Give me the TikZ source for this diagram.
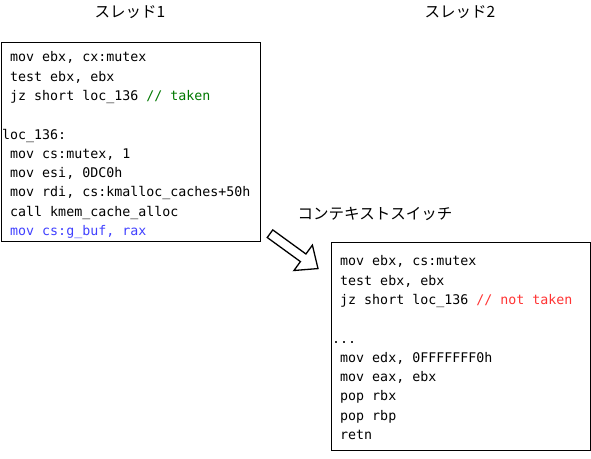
\documentclass[tikz,border=0pt]{standalone}
\usepackage{fontspec}
\setmonofont{DejaVu Sans Mono}
\newfontfamily\jpfont{Noto Sans CJK JP}
\usetikzlibrary{positioning}
\definecolor{takengreen}{RGB}{0,120,0}
\definecolor{storeblue}{RGB}{64,64,255}
\definecolor{nottakenred}{RGB}{255,51,51}
\tikzset{
  frame/.style={draw, line width=0.8pt, inner sep=0pt, anchor=north west},
  listing/.style={align=left, inner sep=0pt, font=\ttfamily\fontsize{13.3}{19.3}\selectfont},
  title/.style={font=\jpfont\fontsize{15.5}{18}\selectfont, inner sep=0pt},
}
\begin{document}
\begin{tikzpicture}[x=1pt,y=-1pt]
  \useasboundingbox (0,0) rectangle (591,458);
  % Thread titles
  \node[title] (title1) at (130,12) {スレッド1};
  \node[title] (title2) at (460,12) {スレッド2};
  % Thread 1 code
  \node[frame, minimum width=259pt, minimum height=199pt] (box1) at (1,42) {};
  \node[listing, below right=9.5pt and 1pt of box1.north west] (code1) {%
    \ mov ebx, cx:mutex\\
    \ test ebx, ebx\\
    \ jz short loc\_136 \textcolor{takengreen}{// taken}\\[19.3pt]
    loc\_136:\\
    \ mov cs:mutex, 1\\
    \ mov esi, 0DC0h\\
    \ mov rdi, cs:kmalloc\_caches+50h\\
    \ call kmem\_cache\_alloc\\
    \ \textcolor{storeblue}{mov cs:g\_buf, rax}};
  % Context switch
  \node[title] (switch) at (375,214) {コンテキストスイッチ};
  \draw[line width=1.3pt, shift={(270,233.7)}, rotate=-36]
    (0,4.7) -- (41,4.7) -- (41,15.7) -- (59.3,0) -- (41,-15.7) -- (41,-4.7) -- (0,-4.7) -- cycle;
  % Thread 2 code
  \node[frame, minimum width=259.5pt, minimum height=208.5pt] (box2) at (330.5,241.7) {};
  \node[listing, below right=13.8pt and 1.5pt of box2.north west] (code2) {%
    \ mov ebx, cs:mutex\\
    \ test ebx, ebx\\
    \ jz short loc\_136 \textcolor{nottakenred}{// not taken}\\[19.3pt]
    ...\\
    \ mov edx, 0FFFFFFF0h\\
    \ mov eax, ebx\\
    \ pop rbx\\
    \ pop rbp\\
    \ retn};
\end{tikzpicture}
\end{document}
